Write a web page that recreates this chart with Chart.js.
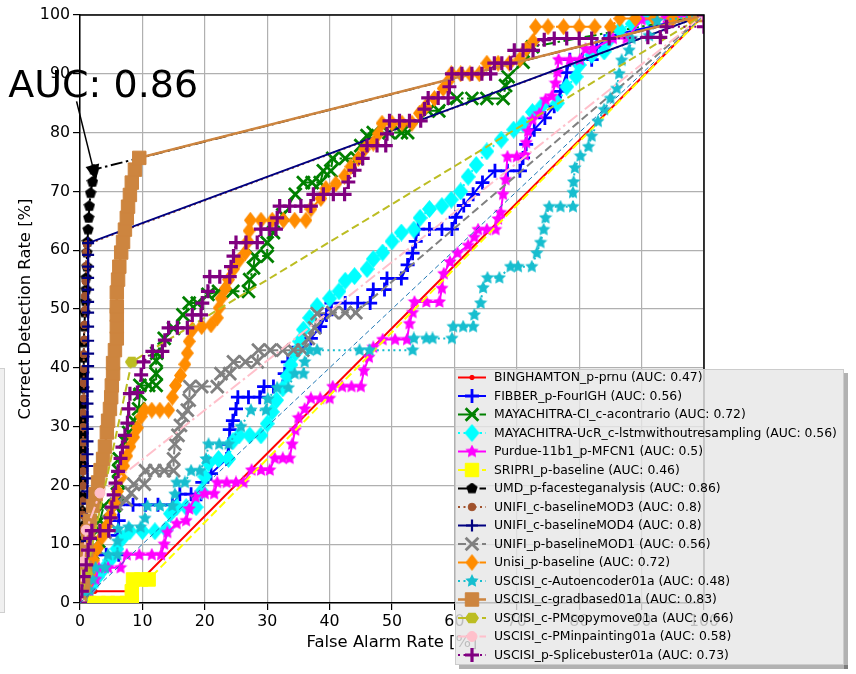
<!DOCTYPE html>
<html>
<head>
<meta charset="utf-8">
<script src="https://cdn.jsdelivr.net/npm/chart.js@4.4.1/dist/chart.umd.min.js"></script>
<style>
  html, body { margin: 0; background: #fff; }
</style>
</head>
<body>
<canvas id="roc" width="856" height="674"></canvas>
<script>
// ROC curves, one [falseAlarm, correctDetection] list per system (percent)
const names = [
  "BINGHAMTON_p-prnu", "FIBBER_p-FourIGH", "MAYACHITRA-CI_c-acontrario",
  "MAYACHITRA-UcR_c-lstmwithoutresampling", "Purdue-11b1_p-MFCN1", "SRIPRI_p-baseline",
  "UMD_p-facesteganalysis", "UNIFI_c-baselineMOD3", "UNIFI_c-baselineMOD4",
  "UNIFI_p-baselineMOD1", "Unisi_p-baseline", "USCISI_c-Autoencoder01a",
  "USCISI_c-gradbased01a", "USCISI_c-PMcopymove01a", "USCISI_c-PMinpainting01a",
  "USCISI_p-Splicebuster01a",
];
const aucs = [0.47, 0.56, 0.72, 0.56, 0.5, 0.46, 0.86, 0.8, 0.8, 0.56, 0.72, 0.48, 0.83, 0.66, 0.58, 0.73];
const ticks = [0, 10, 20, 30, 40, 50, 60, 70, 80, 90, 100];

const binghamton = [[0,0],[2.4,2],[8,2],[100,100]];
const fibber = [[0,0],[0.4,2.5],[0.8,5],[1.5,7],[2.5,8.2],[4.2,8.2],[6.2,8.2],[6,11.5],[6.2,14],[6.2,16.7],[8.5,16.7],[10.5,16.7],[12.5,16.7],[14.8,16.7],[16,18.5],[17.8,18.5],[19.4,18.5],[19.6,20.5],[21,22],[23.5,24.5],[23.8,27],[24,29.5],[24.5,31],[25,33],[25.3,35],[27,35],[28.8,35],[29.5,36.8],[31,36.8],[32.5,36.8],[32.8,39],[33.3,41],[35,43.5],[37,45],[38.5,47],[39.5,49],[40.3,51],[42.5,51],[44.5,51],[46.5,51],[47,53.3],[48.8,53.3],[49.2,55.2],[51.5,55.2],[52.5,57.5],[53.3,59.5],[53.8,61.5],[54.2,63.6],[56,63.6],[58,63.6],[59.6,63.6],[60.2,65.6],[61.5,67.6],[63,69.5],[64.5,71.5],[66.5,73.5],[68.5,73.5],[70.5,73.5],[71,75.7],[71.5,78],[72.8,80.5],[74.5,82.5],[76,84.5],[77,87],[78,90.2],[78.5,92.4],[80.5,92.4],[82,92.4],[82.8,94.5],[85,96.5],[100,100]];
const acontrario = [[0,0],[0.3,2],[0.5,4.5],[1,6.5],[2,8.5],[3,10.5],[3,12.5],[3.2,14],[3.8,16.5],[5.5,16.5],[6,18.5],[6.2,20.5],[6.2,22.5],[6.3,24.5],[7.2,27.5],[7.8,29],[8.6,31],[9.4,33],[9.6,35.5],[9.6,37],[11,37],[12.2,37],[12.2,39],[12.2,41.2],[12.3,42.5],[13.5,45],[15,46.7],[16.5,49],[17.5,51],[18.8,51],[20.5,52.5],[22.2,53],[24.5,53],[27,53],[27.2,55],[27.8,57],[28,59],[30,59],[30,61.3],[31,63],[32.5,66],[34.5,69.5],[35.8,71.5],[37.2,71.5],[38.5,71.5],[39,73.5],[40.2,73.5],[40.5,75.6],[42.5,75.6],[44.4,75.6],[45,77.8],[46,79.5],[47,80],[49.5,80],[51.5,80],[52.5,80],[55.8,83.7],[57.5,83.7],[60.4,85.8],[62.8,85.8],[65.2,85.8],[67.8,85.8],[68.2,88],[68.6,89.5],[71,92],[72.5,94.6],[100,100]];
const lstm = [[0,0],[0.6,1.2],[1.8,2.8],[2.8,4.4],[3.8,5.8],[4.8,7.3],[5.9,9.2],[6.8,11],[8,12.2],[10,12.2],[12,12.2],[13.8,12.5],[14.5,15.2],[15.5,16.3],[17,16.3],[18.6,16.3],[19.5,19],[20,21.5],[20.6,23.8],[22.2,24.5],[23.8,24.5],[24.5,27.5],[25.5,28.5],[27.2,28.5],[29,28.5],[30,30.5],[30.8,32.5],[31.5,34.5],[32.5,36.5],[33.2,38.6],[33.8,40.5],[34.5,42.5],[35.2,44.5],[35.8,46.5],[36.8,48.5],[38,50.5],[40,51.8],[41.5,53],[42.5,54.8],[44,55.6],[46,56.8],[47,58.5],[48.5,59.6],[50,61.5],[51.5,63],[53.5,63.5],[54.5,65.5],[56,67],[58,67.5],[59.5,68.6],[61,70],[62.2,72.5],[63.5,74.5],[65.2,76.8],[67.5,78.8],[69.5,80.5],[71,81.5],[72.5,83.5],[74,84.5],[76.5,85],[78,87.8],[79.5,89.5],[80,91.5],[82,93.2],[84,93.8],[84.8,95.8],[86.5,97.5],[88.5,98.5],[91,99.6],[95,99.8],[100,100]];
const mfcn = [[0,0],[1,0],[1.5,2],[2.5,4],[3,6],[4.5,6],[6.5,6],[7.5,8.2],[9.5,8.2],[11.5,8.2],[13,8.2],[13.5,10],[14,12],[15.5,13.5],[17,14],[17.5,16],[18.5,18],[20,18.6],[21.5,18.6],[22,20.5],[23.5,20.5],[25,20.5],[26.2,20.5],[27.5,22.6],[29,22.6],[30.4,22.6],[31.2,24.6],[32.5,24.6],[33.6,24.6],[34,27],[34.5,29.4],[35,31.5],[36,33],[37,34.8],[38.5,34.8],[40,34.8],[40.5,36.8],[42,36.8],[43.5,36.8],[45,36.8],[45.5,39.5],[46.3,41.8],[47,43.5],[48.5,44.8],[50.5,44.8],[52.4,44.8],[52.8,47.5],[53.3,49.4],[53.6,51.2],[55.5,51.2],[57.6,51.2],[58,53.5],[58.3,56],[59.3,58],[60.5,59.5],[62.2,60.8],[63.2,62.2],[63.8,63.5],[65.2,63.5],[66.6,63.5],[67,65.3],[67.4,66.4],[67.8,69.5],[68.2,72],[68.5,75.9],[70,75.9],[71.3,76.2],[71.5,78.3],[71.8,80.2],[72.5,82.2],[73.6,83.2],[74.6,85.6],[75.6,86.2],[76.2,88.4],[76.5,90.3],[76.7,92.4],[78.5,92.4],[80.1,92.4],[81,94.2],[82.2,94.2],[85.4,96],[87.6,96],[90,99.2],[94,99.5],[100,100]];
const sripri = [[0,0],[1.5,0],[3,0],[4.5,0],[6,0],[7.5,0],[8.3,0],[8.3,2],[8.5,4],[9.8,4],[11,4],[100,100]];
const facesteg = [[0,0],[0.2,2.5],[0.3,5],[0.3,7.8],[0.3,10.5],[0.4,13],[0.4,15.6],[0.4,18.2],[0.4,20.8],[0.5,23.5],[0.5,26],[0.5,28.7],[0.5,31.2],[0.5,33.8],[0.6,36.5],[0.6,39],[0.6,41.7],[0.6,44.3],[0.7,47],[0.8,49.4],[0.9,51.3],[1,53.3],[1,55.3],[1.1,57.2],[1.1,59.6],[1.2,61.4],[1.3,63.5],[1.4,65.5],[1.5,67.5],[1.7,69.7],[2,71.6],[2.2,73.7],[100,100]];
const mod3 = [[0,0],[0.2,2.6],[0.3,5.1],[0.3,7.4],[0.3,10],[0.4,12.4],[0.4,15],[0.4,17.3],[0.5,19.9],[0.5,22.4],[0.5,24.8],[0.5,27.3],[0.5,29.9],[0.5,32.3],[0.6,34.8],[0.6,37.4],[0.6,39.8],[0.6,42.3],[0.7,44.8],[0.7,47.3],[0.8,49.8],[0.8,52.2],[0.9,54.7],[1,57.3],[1,59.6],[1.1,61],[100,100]];
const mod4 = [[0,0],[1,1.8],[1,4],[1,6.1],[1.1,8.4],[1.1,10.5],[1.1,12.6],[1.1,14.8],[1.2,16.9],[1.2,19],[1.2,21.2],[1.2,23.3],[1.2,25.3],[1.2,27.5],[1.2,29.6],[1.2,31.7],[1.2,33.9],[1.2,36],[1.2,38.1],[1.3,40.3],[1.3,42.4],[1.3,44.6],[1.3,47],[1.3,49.4],[1.3,51.2],[1.3,53.3],[1.3,55.3],[1.3,57.2],[1.3,59.2],[1.3,61.2],[100,100]];
const mod1 = [[0,0],[0.3,2],[0.6,4.2],[1,6.8],[2.5,9.5],[4,12],[4.6,13.8],[5,15.3],[5.8,16.8],[7.4,17.5],[8.2,18.7],[8.6,20.2],[10.3,20.2],[10.5,22.5],[12,22.5],[13.5,22.5],[15,22.5],[15,24.5],[15.2,27],[15.7,28.5],[16.1,30.2],[16.5,31.8],[17.2,32.8],[17.5,34.5],[17.6,36.8],[19.5,36.8],[22,36.8],[22.6,39],[24,39],[24.6,41],[26.5,41],[28.4,41],[28.6,43],[30.5,43],[32.5,43],[34.2,43],[35.7,43],[36.6,45],[37.6,46.8],[38,49.2],[40.5,49.4],[42.5,49.4],[44.2,49.4],[100,100]];
const unisi = [[0,0],[0.5,1.5],[1,3],[1.6,5],[2.2,7.3],[2.8,9.3],[3.5,11.2],[4.2,13],[4.9,15],[5.5,17],[6,19],[6.6,21.4],[7,23.3],[7.5,25],[8,26.6],[8.6,28.2],[9.2,29.8],[9.8,31.7],[10.3,32.8],[11.5,32.8],[12.8,32.8],[14.2,32.8],[14.8,35],[15.3,37],[16.1,38.7],[16.8,40.6],[17.2,42.5],[17.5,44.5],[18,46.5],[19.5,47],[21,47.3],[22,48.5],[22.3,50.2],[22.6,51.8],[23.3,53.5],[23.8,55],[24.6,56.8],[25.5,58.3],[26.5,59.6],[26.9,61.5],[27.1,63.3],[27.3,65.1],[29,65.1],[30.8,65.1],[32.6,65.1],[34.4,65.1],[36.2,65.1],[37,67],[38.6,68.8],[39.4,70.5],[41,71.3],[42.4,72.6],[43.4,74.2],[44.6,75.6],[45.6,77.2],[47,78.2],[47.8,79.8],[48.4,81.6],[50,81.6],[51.6,81.6],[53.2,81.6],[54.4,83.3],[55.4,84.4],[56.8,85.8],[58.2,87.5],[59,88.7],[59.5,90],[61,90],[62.5,90],[64,90],[65.2,91.8],[67,91.8],[68.8,91.8],[70.5,92.5],[71.5,94.2],[72.6,95.5],[73,98],[75,98],[77.5,98],[80,98],[82.5,98],[85,98],[86.5,99.4],[89,99.4],[92,99.4],[95,99.4],[98,99.4],[100,100]];
const autoencoder = [[0,0],[0.6,1.2],[1.5,2.2],[2,4],[2.5,6],[4,6],[4.5,8.2],[6,8.2],[6,10.5],[6.1,12.6],[7.8,12.9],[9.7,12.9],[10.4,14.4],[10.8,16.5],[12.8,16.5],[14.8,16.5],[15.2,18.5],[15.5,20.5],[16.8,20.5],[17.8,22.5],[19.2,22.5],[20.2,24.5],[20.6,27],[22.3,27],[23.8,27],[25.8,30],[27.4,32.8],[29.8,32.8],[30.1,34.7],[31.6,36.6],[33.4,36.6],[34.4,39],[35.8,39],[36,41],[36.8,43],[38,43],[44.8,43],[46.4,43],[53.3,43],[53.5,45],[55.5,45],[56.5,45],[59.6,45],[59.8,47],[61.4,47],[63,47],[63.2,49],[64.2,51],[64.6,53.6],[65.3,55.3],[67.2,55.3],[69,57.2],[70.2,57.2],[72.4,57.2],[73.2,59.5],[73.8,61.3],[74.3,63.5],[74.6,65.5],[75.2,67.4],[77,67.4],[79,67.4],[79,69.8],[79.1,71.6],[79.3,74],[80.2,76],[81.5,77.6],[82,79.4],[83,81.9],[84,83.9],[85,85.8],[86,87.5],[86.4,90],[86.8,92.3],[88,94],[88.4,96],[91.2,96.5],[92.5,99],[100,100]];
const gradbased = [[0,0],[0.5,3],[0.8,6],[1,9],[1.3,12],[1.6,14],[2.1,16.5],[2.5,18.5],[2.9,20.5],[3.3,22.6],[3.7,24.5],[4,26.6],[4.3,29],[4.5,31],[4.8,33],[5,35],[5.1,37],[5.3,39],[5.3,40.8],[5.6,43],[5.9,45],[5.9,47],[5.9,49],[5.9,50.4],[5.9,52.8],[6.1,55],[6.3,57.2],[6.6,59.6],[6.9,61.4],[7.2,63.5],[7.5,65.5],[7.7,67.4],[8,69.4],[8.3,71.5],[8.8,73.7],[9.5,75.7],[100,100]];
const copymove = [[0,0],[1,5],[8.3,41],[100,100]];
const inpainting = [[0,0],[0.5,7],[1,12.4],[3.2,18.7],[100,100]];
const splicebuster = [[0,0],[0.3,2],[0.6,4.5],[1,6.5],[1.3,9],[1.6,11],[1.9,12.3],[3.2,12.3],[4.6,12.3],[4.9,14.5],[5.1,16.3],[5.4,18.4],[5.7,20.4],[6.1,22.4],[6.5,24.6],[6.8,26.5],[7.2,28.5],[7.6,30.6],[7.8,33],[8,35.6],[9.2,35.8],[9.8,38.8],[10.2,41],[11.6,42.8],[13.2,42.8],[13.6,44.7],[14.2,46.8],[15.6,46.8],[17.2,46.8],[18,49],[19.4,49],[19.6,51],[20.5,53],[20.8,55.5],[22.4,55.5],[24,55.5],[24.2,57.2],[24.6,59],[25,61.3],[26.6,61.3],[28.4,61.3],[29,63.6],[30.4,63.6],[31.4,63.6],[31.6,65.5],[32,67.5],[33.6,67.5],[35.4,67.5],[37,67.5],[37.4,69.5],[39,69.5],[40.6,69.5],[42.4,69.5],[43,71.6],[44,73.6],[45.3,75.6],[46,77.8],[47.6,77.8],[49,77.8],[49.2,79.8],[49.6,82],[51.2,82],[52.8,82],[54.6,82],[55.2,84],[55.8,85.9],[57.4,85.9],[59,85.9],[59.2,87.8],[59.6,90],[61.2,90],[62.8,90],[64.4,90],[65.8,90],[66.4,91.8],[67.6,91.8],[69,91.8],[69.6,94],[71,94],[72.6,94],[74.4,95.8],[76,96],[78,96],[80,96],[82,96],[84.8,96],[91,96.2],[93,96.2],[94,98],[100,98],[100,100]];
const chance = [[0,0],[100,100]];

// the UMD call-out: text anchor, arrow tail and arrow tip in data units
const aucNote = "AUC: 0.86";
const aucNoteAt = [-11.5, 86.1];
const arrowFrom = [-0.55, 85.3];
const arrowTo = [2.6, 71.8];

const curves = [binghamton, fibber, acontrario, lstm, mfcn, sripri, facesteg, mod3,
  mod4, mod1, unisi, autoencoder, gradbased, copymove, inpainting, splicebuster];

// filled marker shapes that Chart.js does not ship with
const shapeMarker = (color, w, h, pts) => {
  const c = document.createElement("canvas");
  c.width = w;
  c.height = h;
  const g = c.getContext("2d");
  g.fillStyle = color;
  g.beginPath();
  pts.forEach(([px, py], i) => (i ? g.lineTo(px * w, py * h) : g.moveTo(px * w, py * h)));
  g.closePath();
  g.fill();
  return c;
};
const ring = (n, start, inner) => {
  const pts = [];
  for (let i = 0; i < n; i++) {
    const a = start + (i * 2 * Math.PI) / n;
    const r = inner && i % 2 ? inner : 1;
    pts.push([0.5 + 0.5 * r * Math.cos(a), 0.5 + 0.5 * r * Math.sin(a)]);
  }
  return pts;
};
const diamond = [[0.5, 0], [1, 0.5], [0.5, 1], [0, 0.5]];

const DASHED = [8, 4];
const DOTTED = [2, 3.5];
const DASHDOT = [12, 3.5, 2.5, 3.5];

const looks = [
  { color: "#ff0000", dash: [], lw: 2, marker: "circle", r: 2.2, bw: 1 },
  { color: "#0000ff", dash: [], lw: 2, marker: "cross", r: 7, bw: 2.8 },
  { color: "#008000", dash: DASHDOT, lw: 2, marker: "crossRot", r: 9, bw: 2.8 },
  { color: "#00ffff", dash: DOTTED, lw: 2, marker: shapeMarker("#00ffff", 15, 18, diamond) },
  { color: "#ff00ff", dash: [], lw: 2, marker: shapeMarker("#ff00ff", 14, 14, ring(10, -Math.PI / 2, 0.5)) },
  { color: "#ffff00", dash: DASHED, lw: 2, marker: "rect", r: 9.5, bw: 1 },
  { color: "#000000", dash: DASHDOT, lw: 2, marker: shapeMarker("#000000", 12, 12, ring(5, -Math.PI / 2)) },
  { color: "#a0522d", dash: DOTTED, lw: 2, marker: "circle", r: 3.8, bw: 1 },
  { color: "#000080", dash: [], lw: 2, marker: "cross", r: 6, bw: 2.2 },
  { color: "#808080", dash: DASHED, lw: 2, marker: "crossRot", r: 9, bw: 2.8 },
  { color: "#ff8c00", dash: DASHDOT, lw: 2, marker: shapeMarker("#ff8c00", 13, 17, diamond) },
  { color: "#17becf", dash: DOTTED, lw: 2, marker: shapeMarker("#17becf", 14, 14, ring(10, -Math.PI / 2, 0.5)) },
  { color: "#cd853f", dash: [], lw: 2.5, marker: "rect", r: 9.5, bw: 1 },
  { color: "#bcbd22", dash: DASHED, lw: 2, marker: shapeMarker("#bcbd22", 14, 12, ring(6, 0)) },
  { color: "#ffc0cb", dash: DASHDOT, lw: 2, marker: "circle", r: 5, bw: 1 },
  { color: "#800080", dash: DOTTED, lw: 2, marker: "cross", r: 7, bw: 3.2 },
];

const datasets = curves.map((pts, i) => {
  const s = looks[i];
  return {
    label: `${names[i]} (AUC: ${aucs[i]})`,
    data: pts.map(([x, y]) => ({ x, y })),
    borderColor: s.color,
    backgroundColor: s.color,
    borderWidth: s.lw,
    borderDash: s.dash,
    pointStyle: s.marker,
    pointRadius: s.r || 6,
    pointBorderWidth: s.bw || 0,
    pointBackgroundColor: s.color,
    pointBorderColor: s.color,
    fill: false,
    tension: 0,
    order: 100 - i, // later systems are painted over earlier ones
  };
});
datasets.push({
  label: "chance",
  data: chance.map(([x, y]) => ({ x, y })),
  borderColor: "#1f77b4",
  borderWidth: 1,
  borderDash: [5, 3],
  pointRadius: 0,
  fill: false,
  order: 0,
});

const FONT = "DejaVu Sans";

const extras = {
  id: "extras",
  afterDatasetsDraw(chart) {
    // top and right frame lines
    const { ctx, chartArea: a } = chart;
    ctx.save();
    ctx.strokeStyle = "#000";
    ctx.lineWidth = 1.5;
    ctx.beginPath();
    ctx.moveTo(a.left, a.top);
    ctx.lineTo(a.right, a.top);
    ctx.lineTo(a.right, a.bottom);
    ctx.stroke();
    ctx.restore();
  },
  afterDraw(chart) {
    const { ctx } = chart;
    const sx = chart.scales.x;
    const sy = chart.scales.y;
    ctx.save();

    // call-out for the best system
    ctx.fillStyle = "#000";
    ctx.font = `38px "${FONT}"`;
    ctx.textBaseline = "alphabetic";
    ctx.fillText(aucNote, sx.getPixelForValue(aucNoteAt[0]), sy.getPixelForValue(aucNoteAt[1]));
    const x0 = sx.getPixelForValue(arrowFrom[0]);
    const y0 = sy.getPixelForValue(arrowFrom[1]);
    const x1 = sx.getPixelForValue(arrowTo[0]);
    const y1 = sy.getPixelForValue(arrowTo[1]);
    const ang = Math.atan2(y1 - y0, x1 - x0);
    ctx.strokeStyle = "#000";
    ctx.lineWidth = 1.5;
    ctx.beginPath();
    ctx.moveTo(x0, y0);
    ctx.lineTo(x1 - 12 * Math.cos(ang), y1 - 12 * Math.sin(ang));
    ctx.stroke();
    ctx.beginPath();
    ctx.moveTo(x1, y1);
    ctx.lineTo(x1 - 16 * Math.cos(ang) + 7 * Math.sin(ang), y1 - 16 * Math.sin(ang) - 7 * Math.cos(ang));
    ctx.lineTo(x1 - 16 * Math.cos(ang) - 7 * Math.sin(ang), y1 - 16 * Math.sin(ang) + 7 * Math.cos(ang));
    ctx.closePath();
    ctx.fill();

    // edge of a neighbouring panel at the far left
    ctx.fillStyle = "#f0f0f0";
    ctx.fillRect(-10, 368, 14, 244);
    ctx.strokeStyle = "#cfcfcf";
    ctx.lineWidth = 1;
    ctx.strokeRect(-10, 368.5, 14.5, 244);

    // legend box with a drop shadow
    const lx = 455, ly = 369, lw = 389, lh = 296;
    ctx.fillStyle = "rgba(0,0,0,0.3)";
    ctx.fillRect(lx + lw, ly + 4, 4, lh);
    ctx.fillRect(lx + 4, ly + lh, lw, 4);
    ctx.fillStyle = "rgba(231,231,231,0.82)";
    ctx.fillRect(lx, ly, lw, lh);
    ctx.strokeStyle = "#cccccc";
    ctx.strokeRect(lx + 0.5, ly + 0.5, lw - 1, lh - 1);

    ctx.font = `12.4px "${FONT}"`;
    ctx.textBaseline = "middle";
    datasets.slice(0, names.length).forEach((ds, i) => {
      const s = looks[i];
      const ry = 377.5 + i * 18.5;
      ctx.strokeStyle = s.color;
      ctx.fillStyle = s.color;
      ctx.lineWidth = s.lw;
      ctx.setLineDash(s.dash);
      ctx.beginPath();
      ctx.moveTo(458, ry);
      ctx.lineTo(486, ry);
      ctx.stroke();
      ctx.setLineDash([]);
      ctx.lineWidth = s.bw || 0;
      Chart.helpers.drawPoint(ctx, { pointStyle: s.marker, rotation: 0, radius: s.r || 6, borderWidth: s.bw || 0 }, 472, ry);
      ctx.fillStyle = "#000";
      ctx.fillText(ds.label, 494, ry + 0.5);
    });
    ctx.restore();
  },
};

new Chart(document.getElementById("roc"), {
  type: "line",
  data: { datasets },
  options: {
    responsive: false,
    animation: false,
    events: [],
    layout: { padding: { top: 15, right: 152, left: 0, bottom: 0 } },
    plugins: { legend: { display: false }, tooltip: { enabled: false } },
    scales: {
      x: {
        type: "linear",
        min: 0,
        max: 100,
        afterFit: (scale) => { scale.height = 71; },
        afterBuildTicks: (scale) => { scale.ticks = ticks.map((v) => ({ value: v })); },
        ticks: { color: "#000", font: { family: FONT, size: 15.8 }, padding: 2, maxRotation: 0 },
        grid: { color: "#b0b0b0", lineWidth: 1.2, tickColor: "#000", tickLength: 7, tickWidth: 1.2 },
        border: { color: "#000", width: 1.5 },
        title: { display: true, text: "False Alarm Rate [%]", color: "#000", font: { family: FONT, size: 16.4 }, padding: { top: 0, bottom: 21 } },
      },
      y: {
        type: "linear",
        min: 0,
        max: 100,
        afterFit: (scale) => { scale.width = 80; },
        afterBuildTicks: (scale) => { scale.ticks = ticks.map((v) => ({ value: v })); },
        ticks: { color: "#000", font: { family: FONT, size: 15.8 }, padding: 3 },
        grid: { color: "#b0b0b0", lineWidth: 1.2, tickColor: "#000", tickLength: 7, tickWidth: 1.2 },
        border: { color: "#000", width: 1.5 },
        title: { display: true, text: "Correct Detection Rate [%]", color: "#000", font: { family: FONT, size: 16.4 }, padding: { top: 16, bottom: 0 } },
      },
    },
  },
  plugins: [extras],
});
</script>
</body>
</html>
